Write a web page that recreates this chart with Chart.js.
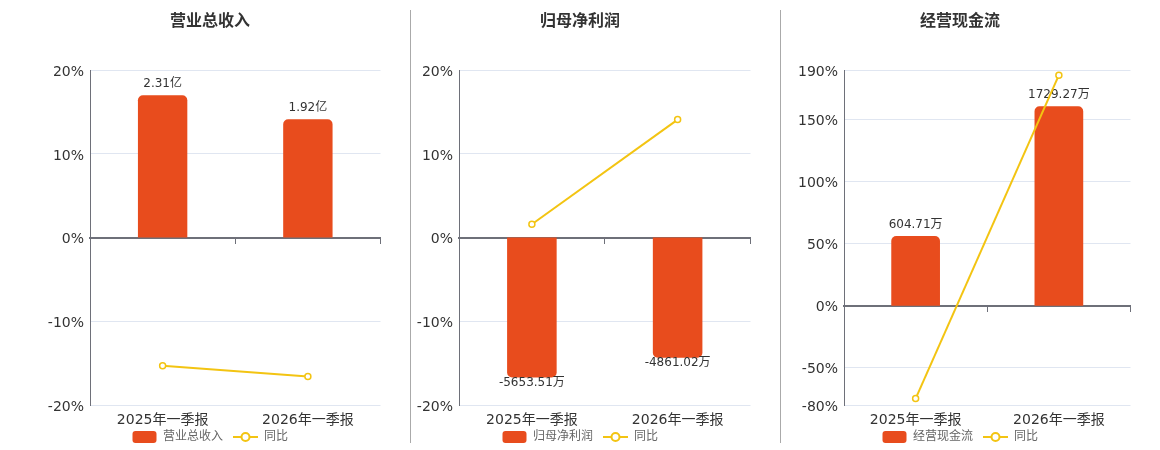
<!DOCTYPE html>
<html>
<head>
<meta charset="utf-8">
<script src="https://cdn.jsdelivr.net/npm/chart.js@4.4.1/dist/chart.umd.min.js"></script>
<style>
  html, body { margin: 0; padding: 0; background: #fff; width: 1160px; height: 450px; overflow: hidden; }
  .box { position: absolute; top: 0; height: 461px; }
  .sep { position: absolute; top: 10px; width: 1px; height: 433px; background: #aaa; }
</style>
</head>
<body>
<div class="sep" style="left:410px"></div>
<div class="sep" style="left:780px"></div>
<div class="box" style="left:34px;width:352px"><canvas id="c1" width="352" height="461"></canvas></div>
<div class="box" style="left:404px;width:352px"><canvas id="c2" width="352" height="461"></canvas></div>
<div class="box" style="left:784px;width:352px"><canvas id="c3" width="352" height="461"></canvas></div>
<script>
// data
const categories = ['2025年一季报', '2026年一季报'];

const revenue = [2.31, 1.92];          // 亿
const revenueYoy = [-15.3, -16.6];     // %
const revenueTicks = [-20, -10, 0, 10, 20];

const netProfit = [-5653.51, -4861.02]; // 万
const netProfitYoy = [1.6, 14.1];
const netProfitTicks = [-20, -10, 0, 10, 20];

const cashFlow = [604.71, 1729.27];    // 万
const cashFlowYoy = [-74.8, 186];
const cashFlowTicks = [-80, -50, 0, 50, 100, 150, 190];

const BAR = '#e84c1d';
const LINE = '#f3c412';
const AXIS = '#6e7079';
const FONT = "'DejaVu Sans', 'Noto Sans CJK SC', sans-serif";

// bars sit on their own hidden axis, zero lined up with the % axis
function barRange(values, tickValues, fill) {
  const lo = tickValues[0], hi = tickValues[tickValues.length - 1];
  const maxV = Math.max(...values), minV = Math.min(...values);
  if (maxV > 0) {
    const top = maxV / fill;
    return { min: top * lo / hi, max: top };
  }
  const bottom = minV / fill;
  return { min: bottom, max: bottom * hi / lo };
}

function legendIcon(kind) {
  const c = document.createElement('canvas');
  c.width = 25; c.height = 14;
  const g = c.getContext('2d');
  if (kind === 'bar') {
    g.fillStyle = BAR;
    g.beginPath(); g.roundRect(0.5, 1, 24, 12, 3); g.fill();
  } else {
    g.strokeStyle = LINE; g.lineWidth = 2;
    g.beginPath(); g.moveTo(0, 7); g.lineTo(25, 7); g.stroke();
    g.fillStyle = '#fff';
    g.beginPath(); g.arc(12.5, 7, 4, 0, Math.PI * 2); g.fill(); g.stroke();
  }
  return c;
}

// value labels at the bar ends, drawn before the line goes on top
const barLabels = {
  id: 'barLabels',
  afterLayout(chart) {
    // legend sits closer to the category labels
    chart.legend.top -= 8;
    chart.legend.bottom -= 8;
  },
  afterDatasetDraw(chart, args, opts) {
    if (args.index !== 0) return;
    const ctx = chart.ctx;
    const values = chart.data.datasets[0].data;
    ctx.save();
    ctx.font = '12px ' + FONT;
    ctx.fillStyle = '#333';
    ctx.textAlign = 'center';
    ctx.textBaseline = 'middle';
    args.meta.data.forEach((bar, i) => {
      const v = values[i];
      const y = v >= 0 ? bar.y - 11 : bar.y + 5;
      ctx.fillText(v.toFixed(2) + opts.unit, bar.x, y);
    });
    ctx.restore();
  }
};

function makeChart(id, title, unit, bars, yoy, tickValues, axisWidth, fill) {
  const range = barRange(bars, tickValues, fill);
  const icons = [legendIcon('bar'), legendIcon('line')];
  return new Chart(document.getElementById(id), {
    type: 'bar',
    data: {
      labels: categories,
      datasets: [
        {
          type: 'bar',
          label: title,
          data: bars,
          yAxisID: 'yBar',
          xAxisID: 'x',
          backgroundColor: BAR,
          borderRadius: 5,
          borderSkipped: 'start',
          barPercentage: 0.34,
          categoryPercentage: 1,
          order: 1
        },
        {
          type: 'line',
          label: '同比',
          data: yoy,
          yAxisID: 'y',
          xAxisID: 'x',
          borderColor: LINE,
          borderWidth: 2,
          pointRadius: 3,
          pointBackgroundColor: '#fff',
          pointBorderColor: LINE,
          pointBorderWidth: 1.5,
          tension: 0,
          order: 0
        }
      ]
    },
    options: {
      responsive: false,
      animation: false,
      layout: { padding: 0 },
      scales: {
        x: {
          type: 'category',
          position: 'bottom',
          offset: true,
          grid: { display: false, drawTicks: false },
          border: { display: false },
          ticks: { color: '#333', padding: 7, font: { size: 14, family: FONT } },
          afterFit: (s) => { s.height = 24; }
        },
        x0: {
          type: 'category',
          axis: 'x',
          position: { y: 0 },
          offset: true,
          z: 1,
          grid: { offset: true, drawOnChartArea: false, drawTicks: true, tickLength: 5, color: AXIS, lineWidth: 1 },
          border: { display: true, color: AXIS, width: 2 },
          ticks: { display: false }
        },
        y: {
          position: 'left',
          min: tickValues[0],
          max: tickValues[tickValues.length - 1],
          afterBuildTicks: (s) => { s.ticks = tickValues.map(v => ({ value: v })); },
          grid: { color: '#e0e6f1', drawTicks: false },
          border: { display: true, color: AXIS, width: 1 },
          ticks: {
            color: '#333', padding: 6, labelOffset: 2, font: { size: 14, family: FONT },
            callback: (v) => v + '%'
          },
          afterFit: (s) => { s.width = axisWidth; }
        },
        yBar: {
          axis: 'y',
          display: false,
          min: range.min,
          max: range.max
        }
      },
      plugins: {
        title: {
          display: true,
          text: title,
          color: '#333',
          font: { size: 16, weight: 'bold', family: FONT },
          padding: { top: 12, bottom: 39 }
        },
        legend: {
          position: 'bottom',
          labels: {
            usePointStyle: true,
            pointStyleWidth: 25,
            boxHeight: 12,
            padding: 10,
            color: '#666',
            font: { size: 12, family: FONT },
            generateLabels: (chart) => chart.data.datasets.map((ds, i) => ({
              text: ds.label,
              pointStyle: icons[i],
              datasetIndex: i,
              hidden: false,
              lineWidth: 0,
              fillStyle: i === 0 ? BAR : LINE,
              strokeStyle: i === 0 ? BAR : LINE,
              fontColor: '#666'
            }))
          }
        },
        tooltip: { enabled: false },
        barLabels: { unit: unit }
      }
    },
    plugins: [barLabels]
  });
}

makeChart('c1', '营业总收入', '亿', revenue, revenueYoy, revenueTicks, 56, 0.85);
makeChart('c2', '归母净利润', '万', netProfit, netProfitYoy, netProfitTicks, 55, 0.835);
makeChart('c3', '经营现金流', '万', cashFlow, cashFlowYoy, cashFlowTicks, 60, 0.847);
</script>
</body>
</html>
